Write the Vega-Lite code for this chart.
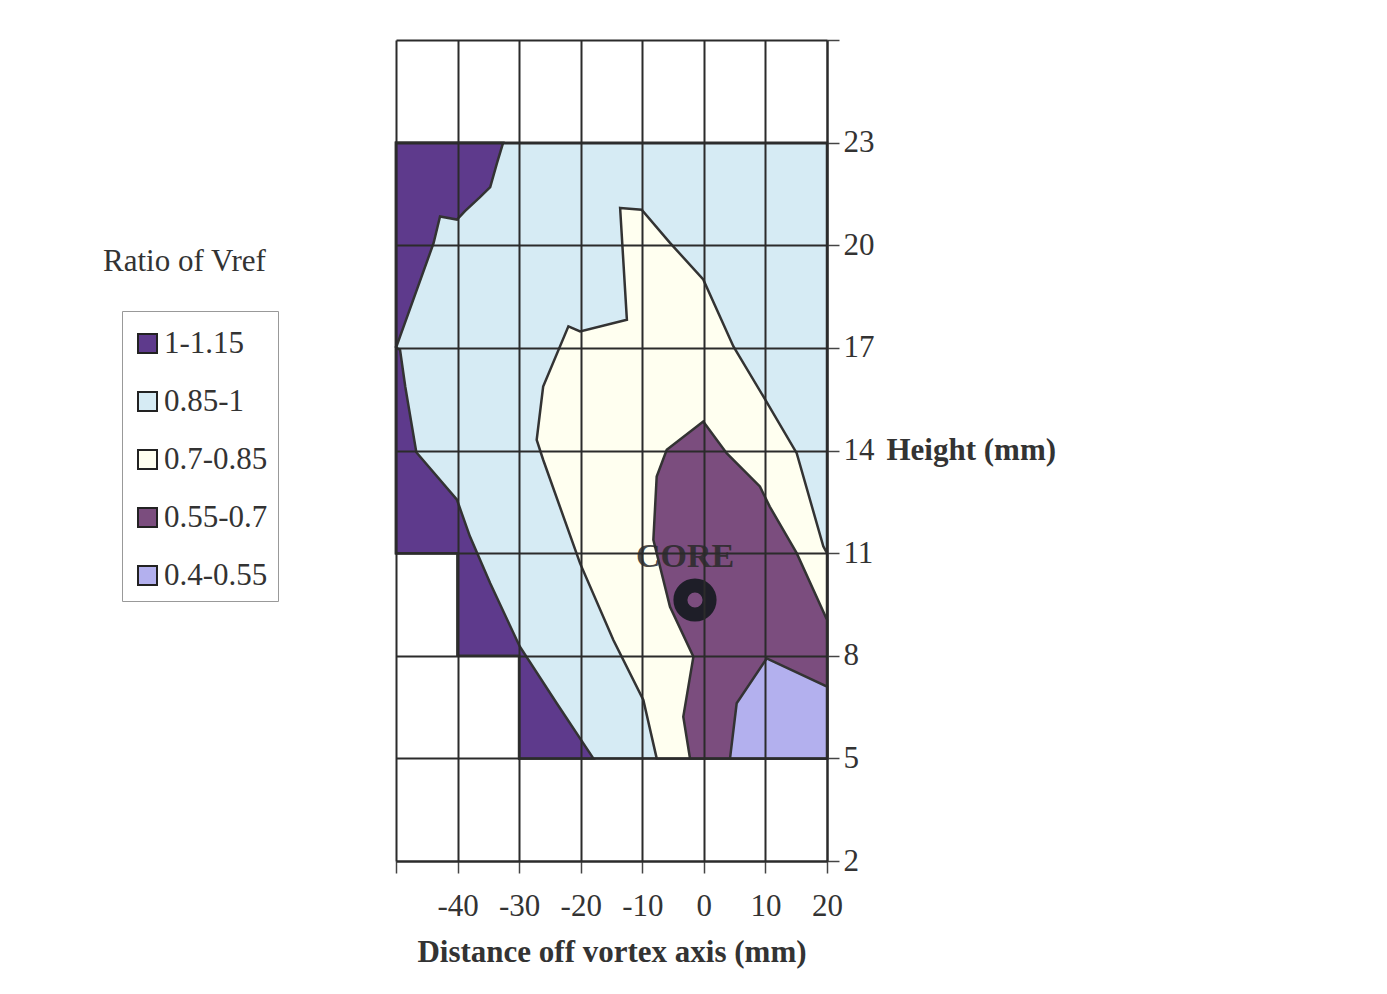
{
  "$schema": "https://vega.github.io/schema/vega-lite/v6.json",
  "width": 431,
  "height": 821,
  "autosize": "none",
  "padding": {"left": 396, "top": 40, "right": 560, "bottom": 133},
  "background": "white",
  "title": {
    "text": "Ratio of Vref",
    "anchor": "start",
    "frame": "group",
    "font": "Liberation Serif",
    "fontSize": 31,
    "fontWeight": "normal",
    "color": "#333",
    "baseline": "alphabetic",
    "offset": 0,
    "dx": -293,
    "dy": 278
  },
  "config": {
    "view": {"stroke": null},
    "legend": {
      "orient": "none",
      "legendX": -274,
      "legendY": 271,
      "strokeColor": "#999",
      "padding": 10,
      "symbolType": "square",
      "symbolSize": 361,
      "symbolStrokeColor": "#222",
      "symbolStrokeWidth": 2,
      "labelFont": "Liberation Serif",
      "labelFontSize": 31,
      "labelColor": "#333",
      "labelOffset": 1,
      "rowPadding": 26,
      "titleFontSize": 1,
      "titlePadding": 6,
      "titleColor": "white"
    }
  },
  "datasets": {
    "polys": [
      {"p": "base", "band": "0.85-1", "i": 0, "x": -50, "y": 23},
      {"p": "base", "band": "0.85-1", "i": 1, "x": 20, "y": 23},
      {"p": "base", "band": "0.85-1", "i": 2, "x": 20, "y": 5},
      {"p": "base", "band": "0.85-1", "i": 3, "x": -30, "y": 5},
      {"p": "base", "band": "0.85-1", "i": 4, "x": -30, "y": 8},
      {"p": "base", "band": "0.85-1", "i": 5, "x": -40, "y": 8},
      {"p": "base", "band": "0.85-1", "i": 6, "x": -40, "y": 11},
      {"p": "base", "band": "0.85-1", "i": 7, "x": -50, "y": 11},

      {"p": "topP", "band": "1-1.15", "i": 0, "x": -50, "y": 23},
      {"p": "topP", "band": "1-1.15", "i": 1, "x": -32.6, "y": 23},
      {"p": "topP", "band": "1-1.15", "i": 2, "x": -33.6, "y": 22.4},
      {"p": "topP", "band": "1-1.15", "i": 3, "x": -34.7, "y": 21.7},
      {"p": "topP", "band": "1-1.15", "i": 4, "x": -36.4, "y": 21.4},
      {"p": "topP", "band": "1-1.15", "i": 5, "x": -38.8, "y": 21.0},
      {"p": "topP", "band": "1-1.15", "i": 6, "x": -40.1, "y": 20.75},
      {"p": "topP", "band": "1-1.15", "i": 7, "x": -42.85, "y": 20.84},
      {"p": "topP", "band": "1-1.15", "i": 8, "x": -43.9, "y": 20.06},
      {"p": "topP", "band": "1-1.15", "i": 9, "x": -49.35, "y": 17.33},
      {"p": "topP", "band": "1-1.15", "i": 10, "x": -50, "y": 17.0},

      {"p": "lowP", "band": "1-1.15", "i": 0, "x": -50, "y": 17.0},
      {"p": "lowP", "band": "1-1.15", "i": 1, "x": -49.35, "y": 16.95},
      {"p": "lowP", "band": "1-1.15", "i": 2, "x": -48.5, "y": 15.87},
      {"p": "lowP", "band": "1-1.15", "i": 3, "x": -46.7, "y": 13.95},
      {"p": "lowP", "band": "1-1.15", "i": 4, "x": -40.1, "y": 12.56},
      {"p": "lowP", "band": "1-1.15", "i": 5, "x": -38.0, "y": 11.49},
      {"p": "lowP", "band": "1-1.15", "i": 6, "x": -34.7, "y": 10.12},
      {"p": "lowP", "band": "1-1.15", "i": 7, "x": -29.9, "y": 8.27},
      {"p": "lowP", "band": "1-1.15", "i": 8, "x": -23.9, "y": 6.61},
      {"p": "lowP", "band": "1-1.15", "i": 9, "x": -17.95, "y": 5.0},
      {"p": "lowP", "band": "1-1.15", "i": 10, "x": -30, "y": 5},
      {"p": "lowP", "band": "1-1.15", "i": 11, "x": -30, "y": 8},
      {"p": "lowP", "band": "1-1.15", "i": 12, "x": -40, "y": 8},
      {"p": "lowP", "band": "1-1.15", "i": 13, "x": -40, "y": 11},
      {"p": "lowP", "band": "1-1.15", "i": 14, "x": -50, "y": 11},

      {"p": "cream", "band": "0.7-0.85", "i": 0, "x": -13.6, "y": 21.09},
      {"p": "cream", "band": "0.7-0.85", "i": 1, "x": -10.1, "y": 21.04},
      {"p": "cream", "band": "0.7-0.85", "i": 2, "x": -5.5, "y": 20.07},
      {"p": "cream", "band": "0.7-0.85", "i": 3, "x": -0.1, "y": 19.0},
      {"p": "cream", "band": "0.7-0.85", "i": 4, "x": 4.8, "y": 17.04},
      {"p": "cream", "band": "0.7-0.85", "i": 5, "x": 9.66, "y": 15.58},
      {"p": "cream", "band": "0.7-0.85", "i": 6, "x": 15.08, "y": 13.92},
      {"p": "cream", "band": "0.7-0.85", "i": 7, "x": 19.4, "y": 11.2},
      {"p": "cream", "band": "0.7-0.85", "i": 8, "x": 20, "y": 11.0},
      {"p": "cream", "band": "0.7-0.85", "i": 9, "x": 20, "y": 5},
      {"p": "cream", "band": "0.7-0.85", "i": 10, "x": -7.66, "y": 5},
      {"p": "cream", "band": "0.7-0.85", "i": 11, "x": -9.83, "y": 6.71},
      {"p": "cream", "band": "0.7-0.85", "i": 12, "x": -14.7, "y": 8.46},
      {"p": "cream", "band": "0.7-0.85", "i": 13, "x": -20.1, "y": 10.7},
      {"p": "cream", "band": "0.7-0.85", "i": 14, "x": -26.1, "y": 13.73},
      {"p": "cream", "band": "0.7-0.85", "i": 15, "x": -27.15, "y": 14.31},
      {"p": "cream", "band": "0.7-0.85", "i": 16, "x": -26.1, "y": 15.87},
      {"p": "cream", "band": "0.7-0.85", "i": 17, "x": -22.0, "y": 17.63},
      {"p": "cream", "band": "0.7-0.85", "i": 18, "x": -20.1, "y": 17.48},
      {"p": "cream", "band": "0.7-0.85", "i": 19, "x": -12.5, "y": 17.82},

      {"p": "mauve", "band": "0.55-0.7", "i": 0, "x": -0.1, "y": 14.85},
      {"p": "mauve", "band": "0.55-0.7", "i": 1, "x": 3.7, "y": 13.92},
      {"p": "mauve", "band": "0.55-0.7", "i": 2, "x": 9.1, "y": 12.95},
      {"p": "mauve", "band": "0.55-0.7", "i": 3, "x": 10.7, "y": 12.36},
      {"p": "mauve", "band": "0.55-0.7", "i": 4, "x": 15.08, "y": 11.0},
      {"p": "mauve", "band": "0.55-0.7", "i": 5, "x": 20, "y": 9.05},
      {"p": "mauve", "band": "0.55-0.7", "i": 6, "x": 20, "y": 5},
      {"p": "mauve", "band": "0.55-0.7", "i": 7, "x": -2.25, "y": 5},
      {"p": "mauve", "band": "0.55-0.7", "i": 8, "x": -3.34, "y": 6.22},
      {"p": "mauve", "band": "0.55-0.7", "i": 9, "x": -1.7, "y": 7.97},
      {"p": "mauve", "band": "0.55-0.7", "i": 10, "x": -5.5, "y": 9.43},
      {"p": "mauve", "band": "0.55-0.7", "i": 11, "x": -8.2, "y": 11.39},
      {"p": "mauve", "band": "0.55-0.7", "i": 12, "x": -7.66, "y": 13.24},
      {"p": "mauve", "band": "0.55-0.7", "i": 13, "x": -6.03, "y": 14.02},

      {"p": "lav", "band": "0.4-0.55", "i": 0, "x": 10.2, "y": 7.92},
      {"p": "lav", "band": "0.4-0.55", "i": 1, "x": 20, "y": 7.1},
      {"p": "lav", "band": "0.4-0.55", "i": 2, "x": 20, "y": 5},
      {"p": "lav", "band": "0.4-0.55", "i": 3, "x": 4.25, "y": 5},
      {"p": "lav", "band": "0.4-0.55", "i": 4, "x": 5.33, "y": 6.61}
    ]
  },
  "encoding": {
    "x": {
      "field": "x",
      "type": "quantitative",
      "scale": {"domain": [-50, 20], "nice": false, "zero": false},
      "axis": {
        "orient": "bottom",
        "values": [-50, -40, -30, -20, -10, 0, 10, 20],
        "labelExpr": "datum.value == -50 ? '' : '' + datum.value",
        "grid": true,
        "gridColor": "#2b2b2b",
        "gridWidth": 2,
        "gridOpacity": 1,
        "domain": true,
        "domainColor": "#2b2b2b",
        "domainWidth": 2,
        "ticks": true,
        "tickSize": 12,
        "tickColor": "#444",
        "tickWidth": 1.5,
        "labelFont": "Liberation Serif",
        "labelFontSize": 31,
        "labelColor": "#333",
        "labelPadding": 18,
        "labelFlush": false,
        "labelOverlap": false,
        "title": "Distance off vortex axis (mm)",
        "titleFont": "Liberation Serif",
        "titleFontSize": 31,
        "titleFontWeight": "bold",
        "titleColor": "#333",
        "titlePadding": 16,
        "zindex": 1
      }
    },
    "y": {
      "field": "y",
      "type": "quantitative",
      "scale": {"domain": [2, 26], "nice": false, "zero": false},
      "axis": {
        "orient": "right",
        "values": [2, 5, 8, 11, 14, 17, 20, 23, 26],
        "labelExpr": "datum.value == 26 ? '' : datum.label",
        "grid": true,
        "gridColor": "#2b2b2b",
        "gridWidth": 2,
        "gridOpacity": 1,
        "domain": true,
        "domainColor": "#2b2b2b",
        "domainWidth": 2,
        "ticks": true,
        "tickSize": 12,
        "tickColor": "#444",
        "tickWidth": 1.5,
        "labelFont": "Liberation Serif",
        "labelFontSize": 31,
        "labelColor": "#333",
        "labelPadding": 4,
        "labelFlush": false,
        "labelOverlap": false,
        "title": "Height (mm)",
        "titleFont": "Liberation Serif",
        "titleFontSize": 31,
        "titleFontWeight": "bold",
        "titleColor": "#333",
        "titleAngle": 0,
        "titleAlign": "left",
        "titleBaseline": "middle",
        "titleX": 59,
        "titleY": 410,
        "zindex": 1
      }
    }
  },
  "layer": [
    {
      "data": {"name": "polys"},
      "transform": [{"filter": "datum.p == 'base'"}],
      "mark": {"type": "line", "filled": true, "interpolate": "linear-closed", "stroke": "#333", "strokeWidth": 2.5, "opacity": 1},
      "encoding": {
        "order": {"field": "i", "type": "quantitative"},
        "color": {
          "field": "band",
          "type": "nominal",
          "title": " ",
          "scale": {
            "domain": ["1-1.15", "0.85-1", "0.7-0.85", "0.55-0.7", "0.4-0.55"],
            "range": ["#5e3a8c", "#d6ebf4", "#fffff0", "#7b4d7e", "#b3b0ee"]
          }
        }
      }
    },
    {
      "data": {"name": "polys"},
      "transform": [{"filter": "datum.p == 'topP'"}],
      "mark": {"type": "line", "filled": true, "interpolate": "linear-closed", "stroke": "#333", "strokeWidth": 2.5, "opacity": 1},
      "encoding": {
        "order": {"field": "i", "type": "quantitative"},
        "color": {"field": "band", "type": "nominal", "title": " "}
      }
    },
    {
      "data": {"name": "polys"},
      "transform": [{"filter": "datum.p == 'lowP'"}],
      "mark": {"type": "line", "filled": true, "interpolate": "linear-closed", "stroke": "#333", "strokeWidth": 2.5, "opacity": 1},
      "encoding": {
        "order": {"field": "i", "type": "quantitative"},
        "color": {"field": "band", "type": "nominal", "title": " "}
      }
    },
    {
      "data": {"name": "polys"},
      "transform": [{"filter": "datum.p == 'cream'"}],
      "mark": {"type": "line", "filled": true, "interpolate": "linear-closed", "stroke": "#333", "strokeWidth": 2.5, "opacity": 1},
      "encoding": {
        "order": {"field": "i", "type": "quantitative"},
        "color": {"field": "band", "type": "nominal", "title": " "}
      }
    },
    {
      "data": {"name": "polys"},
      "transform": [{"filter": "datum.p == 'mauve'"}],
      "mark": {"type": "line", "filled": true, "interpolate": "linear-closed", "stroke": "#333", "strokeWidth": 2.5, "opacity": 1},
      "encoding": {
        "order": {"field": "i", "type": "quantitative"},
        "color": {"field": "band", "type": "nominal", "title": " "}
      }
    },
    {
      "data": {"name": "polys"},
      "transform": [{"filter": "datum.p == 'lav'"}],
      "mark": {"type": "line", "filled": true, "interpolate": "linear-closed", "stroke": "#333", "strokeWidth": 2.5, "opacity": 1},
      "encoding": {
        "order": {"field": "i", "type": "quantitative"},
        "color": {"field": "band", "type": "nominal", "title": " "}
      }
    },
    {
      "data": {"values": [{"x": -1.44, "y": 9.63}]},
      "mark": {"type": "point", "shape": "circle", "filled": false, "stroke": "#1e1e28", "strokeWidth": 14, "size": 850, "opacity": 1},
      "encoding": {}
    },
    {
      "data": {"values": [{"x": -3.06, "y": 10.9, "label": "CORE"}]},
      "mark": {"type": "text", "font": "Liberation Serif", "fontSize": 34, "fontWeight": "bold", "color": "#2a2a2a", "align": "center", "baseline": "middle", "opacity": 0.85},
      "encoding": {"text": {"field": "label"}}
    }
  ]
}
